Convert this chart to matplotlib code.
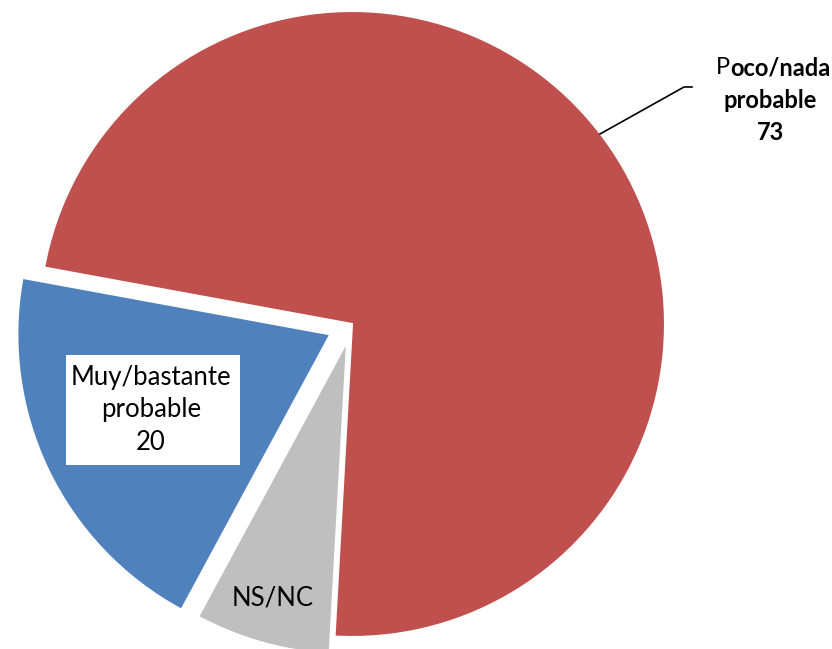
import matplotlib
matplotlib.use("Agg")
import matplotlib.pyplot as plt
from matplotlib.patches import Rectangle

labels = ["Poco/nada probable", "NS/NC", "Muy/bastante probable"]
values = [73, 7, 20]
colors = ["#C0504D", "#BFBFBF", "#4F81BD"]
explode = [0, 18, 24]

plt.rcParams['font.family'] = ['Lato', 'DejaVu Sans']

W, H = 832, 649
fig = plt.figure(figsize=(W / 100, H / 100), dpi=100)
ax = fig.add_axes([0, 0, 1, 1])

cx, cy, r = 352, H - 324, 313
wedges, _ = ax.pie(values, colors=colors, explode=explode, startangle=169.6,
                   counterclock=False, center=(cx, cy), radius=r, frame=True,
                   wedgeprops=dict(edgecolor='white', linewidth=1.5))
ax.set_xlim(0, W)
ax.set_ylim(0, H)
ax.set_aspect('equal')
ax.axis('off')

fs = 18.5
fsb = 17
# Poco/nada label with leader line
ax.plot([600, 684, 692], [H - 134, H - 87, H - 87], color='black', lw=1.2)
renderer = fig.canvas.get_renderer()
tP = ax.text(0, H - 68, "P", ha='left', va='center', fontsize=fsb)
tRest = ax.text(0, H - 68, "oco/nada", ha='left', va='center', fontsize=fsb, fontweight='bold')
wP = tP.get_window_extent(renderer).width
wR = tRest.get_window_extent(renderer).width
x0 = 773 - (wP + wR) / 2
tP.set_x(x0)
tRest.set_x(x0 + wP)
ax.text(770, H - 100, "probable", ha='center', va='center', fontsize=fsb, fontweight='bold')
ax.text(770, H - 132, str(values[0]), ha='center', va='center', fontsize=fsb, fontweight='bold')

# Muy/bastante label in white box
ax.add_patch(Rectangle((66, H - 465), 174, 110, facecolor='white', edgecolor='none', zorder=3))
ax.text(151, H - 378, "Muy/bastante", ha='center', va='center', fontsize=fs, zorder=4)
ax.text(151, H - 410, "probable", ha='center', va='center', fontsize=fs, zorder=4)
ax.text(151, H - 442, str(values[2]), ha='center', va='center', fontsize=fs, zorder=4)

# NS/NC label
ax.text(273, H - 598, labels[1], ha='center', va='center', fontsize=fs, zorder=4)

fig.savefig("out.png", dpi=100)
